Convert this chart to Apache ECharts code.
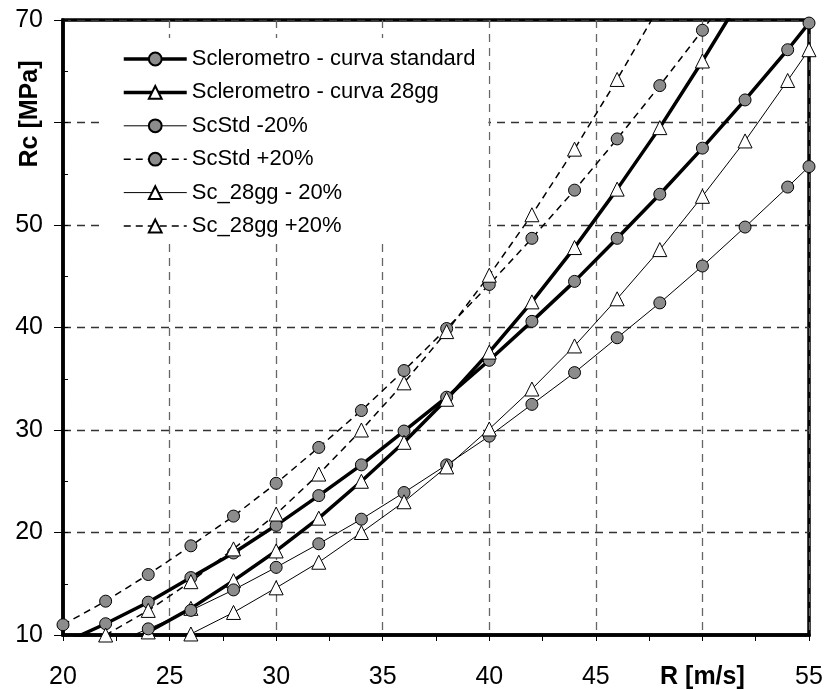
<!DOCTYPE html>
<html lang="en">
<head>
    <meta charset="UTF-8">
    <title>Sclerometro</title>
    <script src="https://cdn.jsdelivr.net/npm/echarts@6/dist/echarts.min.js"></script>
</head>
<style>
    body { margin: 0; background: #fff; }
    #chart { width: 827px; height: 690px; }
</style>
<body>
<div id="chart"></div>
<script>
    // rebound index R [m/s]
    const rValues = [20, 22, 24, 26, 28, 30, 32, 34, 36, 38, 40, 42, 44, 46, 48, 50, 52, 54, 55];

    const curvaStandard = [9.2, 11.1, 13.2, 15.6, 18.0, 20.7, 23.6, 26.6, 29.9, 33.2, 36.8, 40.6, 44.5, 48.7, 53.0, 57.5, 62.2, 67.1, 69.7];
    const curva28gg = [6.5, 8.3, 10.3, 12.6, 15.3, 18.2, 21.4, 25.0, 28.8, 33.0, 37.6, 42.5, 47.8, 53.5, 59.5, 66.0, 72.8, 80.1, 83.9];
    const stdMeno20 = [7.4, 8.9, 10.6, 12.4, 14.4, 16.6, 18.9, 21.3, 23.9, 26.6, 29.4, 32.5, 35.6, 39.0, 42.4, 46.0, 49.8, 53.7, 55.7];
    const stdPiu20 = [11.0, 13.3, 15.9, 18.7, 21.6, 24.8, 28.3, 31.9, 35.8, 39.9, 44.2, 48.7, 53.4, 58.4, 63.6, 69.0, 74.6, 80.5, 83.6];
    const g28Meno20 = [5.2, 6.6, 8.3, 10.1, 12.2, 14.6, 17.1, 20.0, 23.0, 26.4, 30.1, 34.0, 38.2, 42.8, 47.6, 52.8, 58.2, 64.1, 67.1];
    const g28Piu20 = [7.8, 10.0, 12.4, 15.2, 18.4, 21.8, 25.7, 30.0, 34.6, 39.6, 45.1, 51.0, 57.4, 64.2, 71.4, 79.2, 87.4, 96.1, 100.7];

    // 60 is covered by the axis title in the original
    const yTicks = [10, 20, 30, 40, 50, 70];

    function pairs(arr) {
        return rValues.map((r, i) => [r, arr[i]]);
    }

    function serie(name, arr, symbol, width, dashed) {
        return {
            name: name,
            type: 'line',
            data: pairs(arr),
            symbol: symbol,
            symbolSize: symbol === 'circle' ? 12 : 14,
            clip: true,
            lineStyle: {color: '#000', width: width, type: dashed ? [7, 5] : 'solid'},
            itemStyle: {
                color: symbol === 'circle' ? '#8c8c8c' : '#fff',
                borderColor: '#000',
                borderWidth: 1
            }
        }
    }

    const font = 'Liberation Sans, Arial, sans-serif';
    const names = ['Sclerometro - curva standard', 'Sclerometro - curva 28gg', 'ScStd -20%',
        'ScStd +20%', 'Sc_28gg - 20%', 'Sc_28gg +20%'];
    const symbols = ['circle', 'triangle', 'circle', 'circle', 'triangle', 'triangle'];
    const widths = [3.5, 3.5, 1, 1.5, 1, 1.5];
    const dashed = [false, false, false, true, false, true];
    const values = [curvaStandard, curva28gg, stdMeno20, stdPiu20, g28Meno20, g28Piu20];

    let option = {
        animation: false,
        backgroundColor: '#fff',
        textStyle: {fontFamily: font},
        grid: {
            left: 63, right: 18, top: 20, bottom: 55,
            show: true, borderColor: '#000', borderWidth: 3.5
        },
        legend: {
            left: 100, top: 38,
            orient: 'vertical',
            backgroundColor: '#fff',
            padding: [10, 13, 6, 22],
            itemWidth: 63,
            itemHeight: 16,
            itemGap: 11.4,
            textStyle: {fontSize: 22, color: '#000', fontFamily: font},
            data: names.map((n, i) => ({name: n, lineStyle: {width: widths[i]}}))
        },
        xAxis: {
            type: 'value', min: 20, max: 55, interval: 5,
            axisLine: {show: true, lineStyle: {color: '#000', width: 3.5}},
            axisTick: {show: true, length: 6, lineStyle: {color: '#000', width: 1}},
            minorTick: {show: true, splitNumber: 2, length: 6, lineStyle: {color: '#000', width: 1}},
            splitLine: {show: true, lineStyle: {color: '#666', width: 1.3, type: [8, 6]}},
            axisLabel: {
                fontSize: 25, color: '#000', margin: 30,
                formatter: function (v) {
                    return v === 50 ? '{b|R [m/s]}' : String(v);
                },
                rich: {b: {fontSize: 25, fontWeight: 'bold', color: '#000', fontFamily: font}}
            }
        },
        yAxis: [{
            type: 'value', min: 10, max: 70, interval: 10,
            axisLine: {show: true, lineStyle: {color: '#000', width: 3.5}},
            axisTick: {show: true, length: 9, lineStyle: {color: '#000', width: 1}},
            splitLine: {show: true, lineStyle: {color: '#333', width: 1.3, type: [8, 6]}},
            axisLabel: {
                fontSize: 25, color: '#000', margin: 20,
                formatter: function (v) {
                    return yTicks.indexOf(v) >= 0 ? String(v) : '';
                }
            }
        }, {
            // small inner ticks every 5
            type: 'value', min: 10, max: 70, interval: 5, position: 'left',
            axisLine: {show: false},
            axisTick: {show: true, inside: true, length: 5, lineStyle: {color: '#000', width: 1}},
            axisLabel: {show: false},
            splitLine: {show: false}
        }],
        graphic: [{
            type: 'text',
            x: 30, y: 114,
            rotation: Math.PI / 2,
            style: {
                text: 'Rc [MPa]',
                font: 'bold 25px ' + font,
                fill: '#000',
                align: 'center',
                verticalAlign: 'middle'
            }
        }],
        series: names.map((n, i) => serie(n, values[i], symbols[i], widths[i], dashed[i]))
    };

    let chart = echarts.init(document.getElementById('chart'));
    chart.setOption(option);
</script>
</body>
</html>
